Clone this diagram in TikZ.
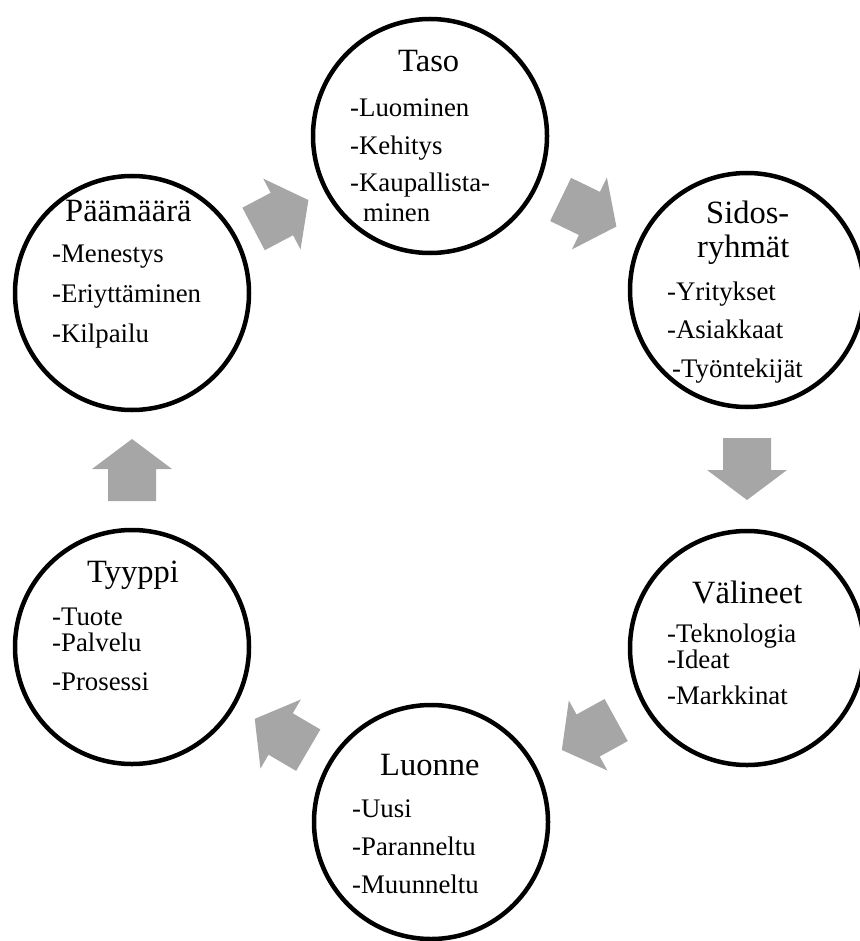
\documentclass[tikz,border=0pt]{standalone}
\usepackage{fontspec}
\setmainfont{Liberation Serif}
\usetikzlibrary{calc}
\definecolor{arrowgray}{HTML}{A6A6A6}
\tikzset{
 ring/.style={circle,draw=black,line width=4.5pt,minimum size=234pt,inner sep=0pt},
 ttl/.style={anchor=base west,inner sep=0pt,font=\fontsize{32.5}{38}\selectfont},
 itm/.style={anchor=base west,inner sep=0pt,font=\fontsize{26.8}{31}\selectfont},
 blockarrow/.style={fill=arrowgray,draw=none}
}
\begin{document}
\begin{tikzpicture}[x=1pt,y=-1pt]
\useasboundingbox (0,0) rectangle (859,941);
% circles
\node[ring] (taso) at (430,136) {};
\node[ring] (sidos) at (747,290) {};
\node[ring] (val) at (747,648) {};
\node[ring] (luonne) at (431,822) {};
\node[ring] (tyyppi) at (132,647) {};
\node[ring] (paa) at (132,293) {};
% block arrows between circles (centred between the two circles, pointing from one to the next)
\foreach \src/\dst/\nm in {paa/taso/a1, taso/sidos/a2, sidos/val/a3, val/luonne/a4, luonne/tyyppi/a5, tyyppi/paa/a6}{
  \coordinate (\nm) at ($(\src)!0.5!(\dst)$);
  \pgfmathanglebetweenpoints{\pgfpointanchor{\src}{center}}{\pgfpointanchor{\dst}{center}}
  \let\ang\pgfmathresult
  \fill[blockarrow,shift={(\nm)},rotate=\ang]
    (-31,-24) -- (1,-24) -- (1,-40) -- (31,0) -- (1,40) -- (1,24) -- (-31,24) -- cycle;
}
% Taso
\node[ttl] (t0) at (398,72) {Taso};
\node[itm] (t1) at (350,117) {-Luominen};
\node[itm] (t2) at (350,155) {-Kehitys};
\node[itm] (t3) at (350,192) {-Kaupallista-};
\node[itm] (t4) at (363,222) {minen};
% Paamaara
\node[ttl] (p0) at (65,222) {Päämäärä};
\node[itm] (p1) at (52,262) {-Menestys};
\node[itm] (p2) at (52,302) {-Eriyttäminen};
\node[itm] (p3) at (52,342) {-Kilpailu};
% Sidosryhmat
\node[ttl] (s0) at (706,223) {Sidos-};
\node[ttl] (s1) at (697,257) {ryhmät};
\node[itm] (s2) at (667,300) {-Yritykset};
\node[itm] (s3) at (667,338) {-Asiakkaat};
\node[itm] (s4) at (672,377) {-Työntekijät};
% Valineet
\node[ttl] (v0) at (692,603) {Välineet};
\node[itm] (v1) at (667,642) {-Teknologia};
\node[itm] (v2) at (667,668) {-Ideat};
\node[itm] (v3) at (667,704) {-Markkinat};
% Luonne
\node[ttl] (l0) at (380,775) {Luonne};
\node[itm] (l1) at (352,817) {-Uusi};
\node[itm] (l2) at (352,855) {-Paranneltu};
\node[itm] (l3) at (352,893) {-Muunneltu};
% Tyyppi
\node[ttl] (y0) at (87,582) {Tyyppi};
\node[itm] (y1) at (52,625) {-Tuote};
\node[itm] (y2) at (52,651) {-Palvelu};
\node[itm] (y3) at (52,690) {-Prosessi};
\end{tikzpicture}
\end{document}
